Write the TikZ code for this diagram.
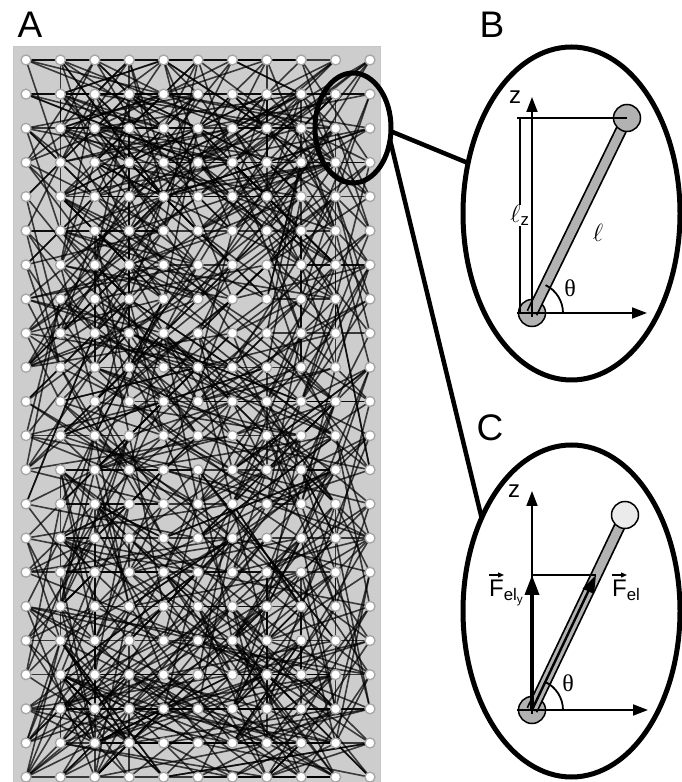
\documentclass[tikz,border=0pt]{standalone}
\usepackage{fontspec}
\setmainfont{Liberation Sans}
\newfontfamily\grkfont{Liberation Serif}
\usetikzlibrary{shapes.geometric, arrows.meta}
\definecolor{meshGray}{HTML}{CDCDCD}
\definecolor{rodGray}{HTML}{B2B2B2}
\definecolor{tipGray}{HTML}{EBEBEB}
\pgfdeclarelayer{back}
\pgfdeclarelayer{links}
\pgfsetlayers{back,links,main}

\begin{document}
\begin{tikzpicture}[
    x=1pt, y=1pt,
    site/.style={circle, draw=gray!70, fill=white, line width=1.3pt, inner sep=0pt, minimum size=10pt},
    link/.style={draw=black, line width=1.6pt, opacity=0.72},
    lens/.style={ellipse, draw, line width=5pt, inner sep=0pt, outer sep=0pt},
    leader/.style={line width=4.5pt},
    panel/.style={inner sep=0pt, font=\fontsize{37}{40}\selectfont},
    lbl/.style={inner sep=0pt, font=\fontsize{24}{26}\selectfont},
    thin/.style={line width=1.8pt},
    axis/.style={line width=1.8pt, -{Triangle[length=15pt, width=11pt]}},
    force/.style={line width=3.5pt, -{Triangle[length=20pt, width=14pt]}},
    vecbar/.style={line width=1.3pt, -{Triangle[length=6pt, width=5pt]}},
    ball/.style={circle, draw, line width=1.5pt, fill=rodGray, inner sep=0pt, minimum size=27pt}
]
\useasboundingbox (0,0) rectangle (681,782);

% network (A)
\begin{pgfonlayer}{back}
\fill[meshGray] (13,0) rectangle (380,735);
\draw[gray!45, line width=1pt] (13,0) -- (13,735) -- (380,735) -- (380,0);
\end{pgfonlayer}

\foreach \i in {0,...,10}{
  \foreach \j in {0,...,21}{
    \node[site] (s-\i-\j) at ({26+34.4*\i}, {722-34.15*\j}) {};
  }
}

\pgfmathsetseed{2718}
\begin{pgfonlayer}{links}
\foreach \i in {0,...,7}{
  \pgfmathtruncatemacro{\ni}{\i+1}
  \draw[link] (s-\i-0.center) -- (s-\ni-0.center);
}
\foreach \i in {0,...,10}{
  \foreach \j in {0,...,21}{
    \foreach \k in {1,...,4}{
      \pgfmathrandominteger{\di}{1}{6}
      \pgfmathrandominteger{\sx}{0}{1}
      \pgfmathrandominteger{\dj}{-5}{5}
      % reflect at the borders of the grid
      \pgfmathtruncatemacro{\ti}{10-abs(10-abs(\i+(2*\sx-1)*\di))}
      \pgfmathtruncatemacro{\tj}{21-abs(21-abs(\j+\dj))}
      \draw[link] (s-\i-\j.center) -- (s-\ti-\tj.center);
    }
  }
}
\end{pgfonlayer}

\node[panel] (labA) at (30,757) {A};
\node[panel] (labB) at (492,757) {B};
\node[panel] (labC) at (490,354) {C};

% lenses
\node[lens, minimum width=76pt, minimum height=110pt] (zoomA) at (353,654) {};
\node[lens, minimum width=217pt, minimum height=333pt] (zoomB) at (571.5,568.5) {};
\node[lens, minimum width=217pt, minimum height=332pt] (zoomC) at (571.5,171) {};
\draw[leader] (zoomA.-5) -- (zoomB.154);
\draw[leader] (zoomA.-18) -- (zoomC.134);

% B: single bond
\coordinate (bO) at (532,469);
\coordinate (bT) at (627,664);
\node[ball] (bBase) at (bO) {};
\draw[line width=12pt] (bBase.center) -- (bT);
\draw[line width=8.5pt, rodGray] (bBase.center) -- (bT);
\node[ball] (bEnd) at (bT) {};
\draw[axis] (517,469) -- (647,469);
\draw[axis] (532,465) -- (532,685);
\node[lbl] (bz) at (515,685) {z};
\draw[thin] (517,664) -- (bEnd.center);
\draw[thin] (520,664) -- node[fill=white, inner sep=2pt, lbl] (blz) {$\ell_{\mathrm{z}}$} (520,469);
\node[lbl] (bl) at (598,549) {$\ell$};
\draw[thin] (563,469) arc[start angle=0, end angle=64, radius=31];
\node[lbl] (bth) at (570,494) {\grkfont θ};

% C: forces on the bond
\coordinate (cO) at (532,72);
\coordinate (cT) at (625,267);
\node[ball] (cBase) at (cO) {};
\draw[line width=12pt] (cBase.center) -- (cT);
\draw[line width=8.5pt, rodGray] (cBase.center) -- (cT);
\node[ball, fill=tipGray] (cEnd) at (cT) {};
\draw[axis] (517,72) -- (648,72);
\draw[axis] (532,68) -- (532,291);
\node[lbl] (cz) at (514,291) {z};
\coordinate (cFy) at (532,207);
\coordinate (cF) at (596,207);
\draw[thin] (cFy) -- (cF);
\draw[force] (cBase.center) -- (cFy);
\draw[line width=2.4pt, -{Triangle[length=18pt, width=12pt]}] (cBase.center) -- (cF);
\node[lbl, anchor=north west] (cFely) at (489,202) {F\textsubscript{el\textsubscript{y}}};
\node[lbl, anchor=north west] (cFel) at (612,202) {F\textsubscript{el}};
\draw[vecbar] ([yshift=5pt]cFely.north west) -- ++(15,0);
\draw[vecbar] ([yshift=5pt]cFel.north west) -- ++(15,0);
\draw[thin] (563,72) arc[start angle=0, end angle=64.5, radius=31];
\node[lbl] (cth) at (568,99) {\grkfont θ};

\end{tikzpicture}
\end{document}
